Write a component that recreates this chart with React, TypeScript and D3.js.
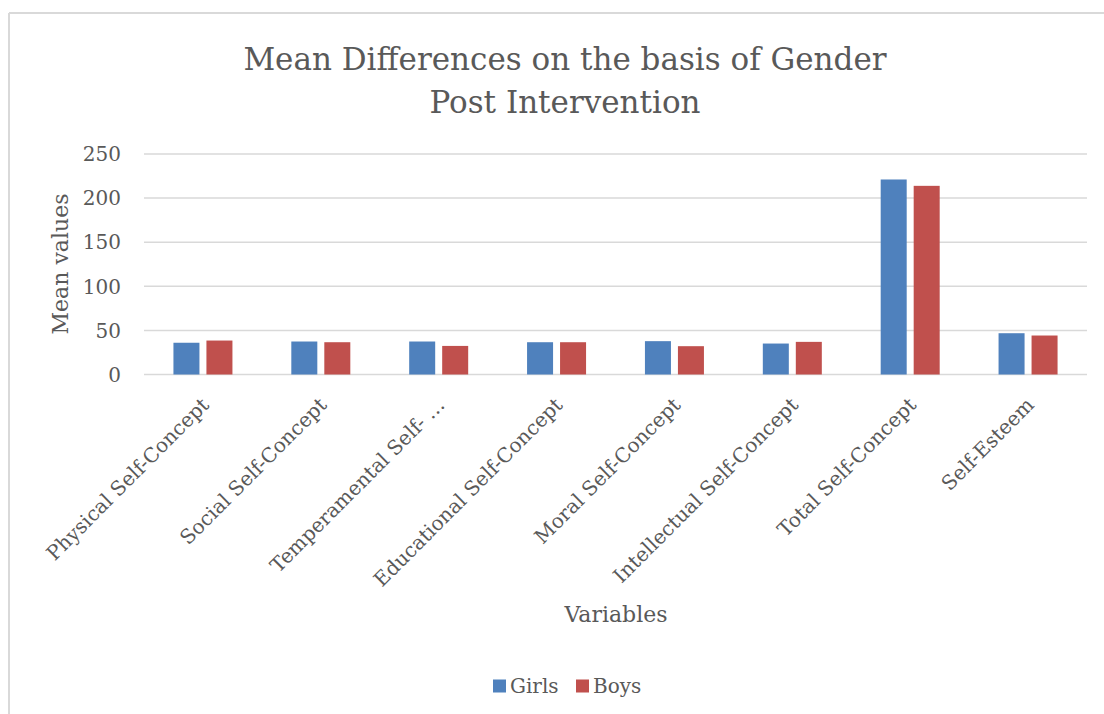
import React from 'react';
import * as d3 from 'd3';

const categories = [
  'Physical Self-Concept',
  'Social Self-Concept',
  'Temperamental Self- …',
  'Educational Self-Concept',
  'Moral Self-Concept',
  'Intellectual Self-Concept',
  'Total Self-Concept',
  'Self-Esteem',
];
const seriesNames = ['Girls', 'Boys'];
const girls = [36, 37.4, 37.4, 36.6, 37.8, 35.1, 221.1, 46.8];
const boys = [38.5, 36.6, 32.4, 36.6, 32.1, 37, 213.9, 44.2];
const yTicks = [0, 50, 100, 150, 200, 250];
const colors = ['#4F81BD', '#C0504D'];

const W = 1104;
const H = 714;
const FONT = 'DejaVu Serif';
const TXT = '#595959';

export default function App() {
  const x = d3.scaleBand<string>().domain(categories).range([144, 1087]);
  const bw = x.bandwidth();
  const x1 = d3
    .scaleBand<string>()
    .domain(seriesNames)
    .range([bw / 2 - 29.5, bw / 2 + 29.5])
    .paddingInner(0.212);
  const y = d3.scaleLinear().domain([0, 250]).range([374.5, 154]);
  const series = [girls, boys];

  return (
    <svg
      width={W}
      height={H}
      style={{ position: 'absolute', left: 0, top: 0, background: '#fff' }}
      fontFamily={FONT}
    >
      <rect x={0} y={0} width={W} height={H} fill="#fff" />
      <line x1={9} y1={13} x2={W} y2={13} stroke="#D9D9D9" strokeWidth={2} />
      <line x1={9} y1={13} x2={9} y2={H} stroke="#D9D9D9" strokeWidth={2} />

      <text x={565} y={70} textAnchor="middle" fontSize={31} fill={TXT}>
        Mean Differences on the basis of Gender
      </text>
      <text x={565} y={113} textAnchor="middle" fontSize={31} fill={TXT}>
        Post Intervention
      </text>

      {yTicks.map((t) => (
        <g key={t}>
          <line x1={144} x2={1087} y1={y(t)} y2={y(t)} stroke="#D9D9D9" strokeWidth={1.5} />
          <text x={121} y={y(t)} dy="0.36em" textAnchor="end" fontSize={20} fill={TXT}>
            {t}
          </text>
        </g>
      ))}

      {categories.map((c, i) => (
        <g key={c} transform={`translate(${x(c)},0)`}>
          {series.map((s, j) => (
            <rect
              key={j}
              x={x1(seriesNames[j])}
              y={y(s[i])}
              width={x1.bandwidth()}
              height={y(0) - y(s[i])}
              fill={colors[j]}
            />
          ))}
        </g>
      ))}

      {categories.map((c) => {
        const cx = (x(c) as number) + bw / 2 - 3;
        return (
          <text
            key={c}
            transform={`translate(${cx},396) rotate(-45)`}
            textAnchor="end"
            dy="0.72em"
            fontSize={20}
            fill={TXT}
          >
            {c}
          </text>
        );
      })}

      <text
        transform={`translate(68,264) rotate(-90)`}
        textAnchor="middle"
        fontSize={22}
        fill={TXT}
      >
        Mean values
      </text>
      <text x={616} y={622} textAnchor="middle" fontSize={22} fill={TXT}>
        Variables
      </text>

      {seriesNames.map((n, j) => (
        <g key={n} transform={`translate(${493 + j * 83},686)`}>
          <rect x={0} y={-6.5} width={13} height={13} fill={colors[j]} />
          <text x={17} y={0} dy="0.36em" fontSize={20} fill={TXT}>
            {n}
          </text>
        </g>
      ))}
    </svg>
  );
}
